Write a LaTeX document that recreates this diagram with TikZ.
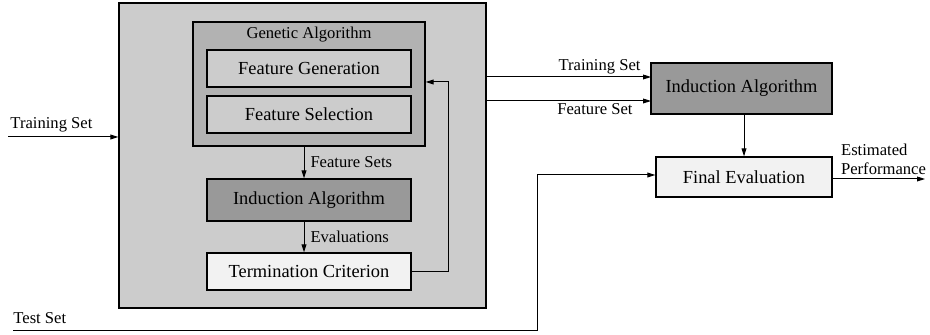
\documentclass[tikz,border=0pt]{standalone}
\usepackage{fontspec}
\setmainfont{Liberation Serif}
\usetikzlibrary{positioning, arrows.meta}

\begin{document}
\begin{tikzpicture}[x=0.5pt, y=-0.5pt,
    box/.style={
    draw,
    line width=0.6pt,
    inner sep=0pt,
    font=\fontsize{9.2}{11}\selectfont},
    lbl/.style={
    inner sep=1pt,
    font=\fontsize{8.3}{9.5}\selectfont},
    arr/.style={
    line width=0.5pt,
    -{Triangle[length=4pt, width=2.4pt]}}]

    \useasboundingbox (0,0) rectangle (930,335);

    % wrapper around the search
    \node[box, fill=black!20, minimum width=183.5pt, minimum height=152.5pt] (outer) at (302.5,155.5) {};
    \node[box, fill=black!30, minimum width=116pt, minimum height=62pt] (ga) at (309,84) {};
    \node[lbl] (galbl) at (309,35) {Genetic Algorithm};
    \node[box, fill=black!20, minimum width=102pt, minimum height=18.5pt] (fgen) at (309,68.5) {Feature Generation};
    \node[box, fill=black!20, minimum width=102pt, minimum height=18.5pt] (fsel) at (309,114.5) {Feature Selection};
    \node[box, fill=black!40, minimum width=102pt, minimum height=21pt] (ind) at (309,200) {Induction Algorithm};
    \node[box, fill=black!5, minimum width=102pt, minimum height=18.5pt] (term) at (309,271.5) {Termination Criterion};

    % final run
    \node[box, fill=black!40, minimum width=90.5pt, minimum height=25.5pt] (ind2) at (741.5,88.5) {Induction Algorithm};
    \node[box, fill=black!5, minimum width=88pt, minimum height=20pt] (final) at (744,177) {Final Evaluation};

    \coordinate (trainin) at (8,137);
    \coordinate (testin) at (13,331);
    \coordinate (testturn) at (537,331);
    \coordinate (loopc) at (448,82);
    \coordinate (perfout) at (925,179);
    \coordinate (tsin) at (651,77);
    \coordinate (fsin) at (651,101);

    \draw[arr] (trainin) -- (trainin -| outer.west)
        node[lbl, pos=0, anchor=south west, yshift=1pt] {Training Set};
    \draw[arr] ([xshift=-2.5pt]ga.south) -- ([xshift=-2.5pt]ind.north)
        node[lbl, midway, right, xshift=2pt] {Feature Sets};
    \draw[arr] ([xshift=-2.5pt]ind.south) -- ([xshift=-2.5pt]term.north)
        node[lbl, midway, right, xshift=2pt] {Evaluations};
    \draw[arr] (term.east) -| (loopc) -- (loopc -| ga.east);

    \draw[arr] (tsin -| outer.east) -- (tsin)
        node[lbl, pos=1, anchor=south east, xshift=-4pt] {Training Set};
    \draw[arr] (fsin -| outer.east) -- (fsin)
        node[lbl, pos=1, anchor=north east, xshift=-8pt] {Feature Set};
    \draw[arr] (ind2.south -| final.north) -- (final.north);
    \draw[line width=0.5pt] (testin) -- (testturn);
    \draw[arr] (testturn) |- ([yshift=1pt]final.west);
    \node[lbl, anchor=south west] (testlbl) at (11,326) {Test Set};
    \draw[arr] (final.east |- perfout) -- (perfout)
        node[lbl, pos=0, anchor=south west, align=left, xshift=3pt, yshift=1pt] {Estimated\\Performance};
\end{tikzpicture}
\end{document}
